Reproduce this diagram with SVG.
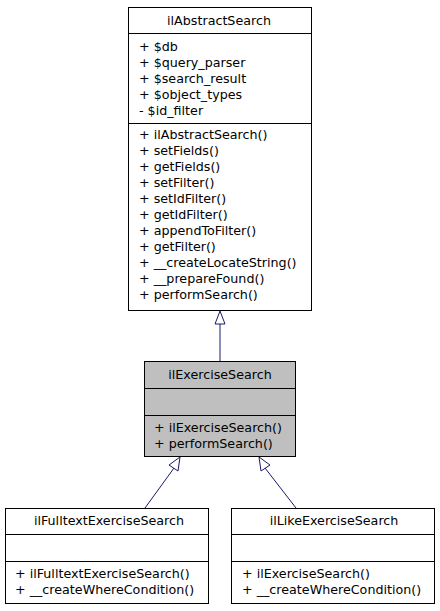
<svg xmlns="http://www.w3.org/2000/svg" width="440" height="611" viewBox="0 0 440 611">
<style>
text{font-family:"DejaVu Sans","Liberation Sans",sans-serif;font-size:12.7px;fill:#000}
.t{text-anchor:middle}
.box{fill:#fff;stroke:#000;stroke-width:1}
.cur{fill:#bfbfbf;stroke:#000;stroke-width:1}
.sep{stroke:#000;stroke-width:1}
.edge{stroke:#191970;stroke-width:1;fill:none}
.head{fill:#fff;stroke:#191970;stroke-width:1}
</style>
<rect width="440" height="611" fill="#fff"/>
<g id="connectors">
<line class="edge" x1="220" y1="361" x2="220" y2="324"/>
<polygon class="head" points="220,311 215,324 225,324"/>
<line class="edge" x1="145" y1="508" x2="174" y2="468"/>
<polygon class="head" points="180,457 169,465 178,471"/>
<line class="edge" x1="296" y1="508" x2="265" y2="468"/>
<polygon class="head" points="259,457 261,471 270,465"/>
</g>
<g id="ilAbstractSearch">
<rect class="box" x="128.5" y="7.5" width="183" height="303"/>
<line class="sep" x1="128.5" y1="33.5" x2="311.5" y2="33.5"/>
<line class="sep" x1="128.5" y1="123.5" x2="311.5" y2="123.5"/>
<text class="t" x="219" y="25">ilAbstractSearch</text>
<text x="139" y="51">+ $db</text>
<text x="139" y="67">+ $query_parser</text>
<text x="139" y="83">+ $search_result</text>
<text x="139" y="99">+ $object_types</text>
<text x="139" y="115">- $id_filter</text>
<text x="139" y="139">+ ilAbstractSearch()</text>
<text x="139" y="155">+ setFields()</text>
<text x="139" y="171">+ getFields()</text>
<text x="139" y="187">+ setFilter()</text>
<text x="139" y="203">+ setIdFilter()</text>
<text x="139" y="219">+ getIdFilter()</text>
<text x="139" y="235">+ appendToFilter()</text>
<text x="139" y="251">+ getFilter()</text>
<text x="139" y="267">+ __createLocateString()</text>
<text x="139" y="283">+ __prepareFound()</text>
<text x="139" y="299">+ performSearch()</text>
</g>
<g id="ilExerciseSearch">
<rect class="cur" x="144.5" y="361.5" width="151" height="95"/>
<line class="sep" x1="144.5" y1="388.5" x2="295.5" y2="388.5"/>
<line class="sep" x1="144.5" y1="415.5" x2="295.5" y2="415.5"/>
<text class="t" x="220" y="379">ilExerciseSearch</text>
<text x="154" y="432">+ ilExerciseSearch()</text>
<text x="154" y="448">+ performSearch()</text>
</g>
<g id="ilFulltextExerciseSearch">
<rect class="box" x="5.5" y="508.5" width="203" height="95"/>
<line class="sep" x1="5.5" y1="534.5" x2="208.5" y2="534.5"/>
<line class="sep" x1="5.5" y1="561.5" x2="208.5" y2="561.5"/>
<text class="t" x="109" y="525">ilFulltextExerciseSearch</text>
<text x="15" y="578">+ ilFulltextExerciseSearch()</text>
<text x="15" y="594">+ __createWhereCondition()</text>
</g>
<g id="ilLikeExerciseSearch">
<rect class="box" x="231.5" y="508.5" width="203" height="95"/>
<line class="sep" x1="231.5" y1="534.5" x2="434.5" y2="534.5"/>
<line class="sep" x1="231.5" y1="561.5" x2="434.5" y2="561.5"/>
<text class="t" x="334" y="525">ilLikeExerciseSearch</text>
<text x="242" y="578">+ ilExerciseSearch()</text>
<text x="242" y="594">+ __createWhereCondition()</text>
</g>
</svg>
